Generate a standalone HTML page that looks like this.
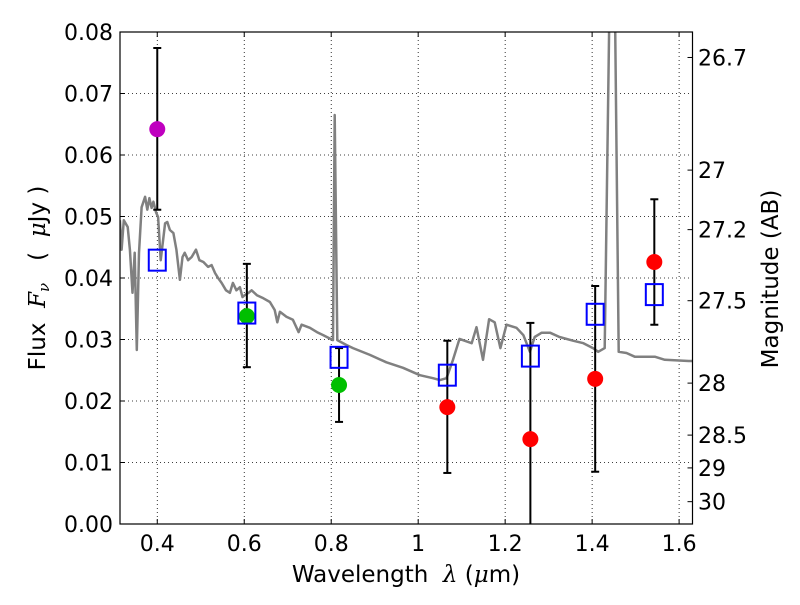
<!DOCTYPE html>
<html><head><meta charset="utf-8"><style>
body{margin:0;background:#fff}
svg text{font-family:"DejaVu Sans","Liberation Sans",sans-serif;fill:#000}
</style></head><body>
<svg id="chart" width="800" height="600" xmlns="http://www.w3.org/2000/svg"></svg>
<script>
const specLam=[0.314,0.318,0.323,0.332,0.337,0.343,0.348,0.353,0.358,0.364,0.372,0.377,0.382,0.387,0.391,0.397,0.402,0.408,0.418,0.423,0.429,0.437,0.444,0.452,0.458,0.463,0.471,0.479,0.489,0.497,0.506,0.517,0.525,0.533,0.540,0.548,0.558,0.567,0.574,0.582,0.590,0.596,0.601,0.610,0.617,0.629,0.644,0.659,0.670,0.676,0.682,0.697,0.712,0.725,0.732,0.751,0.767,0.782,0.804,0.808,0.814,0.835,0.850,0.889,0.927,0.965,1.004,1.034,1.050,1.065,1.080,1.095,1.123,1.134,1.149,1.163,1.176,1.189,1.203,1.226,1.242,1.257,1.268,1.284,1.303,1.325,1.356,1.380,1.402,1.414,1.429,1.443,1.450,1.461,1.479,1.498,1.544,1.567,1.622,1.635];
const specFlux=[0.0494,0.0446,0.0494,0.0483,0.0446,0.0376,0.0441,0.0283,0.0441,0.0515,0.0532,0.0511,0.0530,0.0514,0.0524,0.0507,0.0499,0.0429,0.0489,0.0491,0.0478,0.0473,0.0446,0.0397,0.0434,0.0441,0.0429,0.0434,0.0446,0.0429,0.0426,0.0418,0.0421,0.0408,0.0400,0.0392,0.0380,0.0376,0.0392,0.0380,0.0385,0.0369,0.0372,0.0376,0.0380,0.0372,0.0367,0.0361,0.0348,0.0328,0.0345,0.0337,0.0332,0.0312,0.0324,0.0319,0.0312,0.0307,0.0299,0.0665,0.0299,0.0291,0.0286,0.0275,0.0263,0.0254,0.0242,0.0237,0.0234,0.0237,0.0267,0.0301,0.0294,0.0320,0.0267,0.0333,0.0328,0.0286,0.0324,0.0319,0.0307,0.0280,0.0304,0.0311,0.0311,0.0304,0.0298,0.0294,0.0286,0.0280,0.0286,0.1000,0.1000,0.0280,0.0278,0.0272,0.0272,0.0267,0.0265,0.0265];
const obsLam=[0.400,0.606,0.818,1.067,1.258,1.407,1.543];
const obsFlux=[0.0642,0.0338,0.0226,0.0190,0.0138,0.0236,0.0426];
const obsErrHi=[0.0774,0.0423,0.0286,0.0298,0.0327,0.0387,0.0528];
const obsErrLo=[0.0511,0.0255,0.0166,0.0083,-0.005,0.0085,0.0324];
const obsColor=['#bf00bf','#00bf00','#00bf00','#ff0000','#ff0000','#ff0000','#ff0000'];
const modelFlux=[0.0429,0.0343,0.0271,0.0242,0.0273,0.0341,0.0373];
const xTicks=[0.4,0.6,0.8,1.0,1.2,1.4,1.6];
const xTickLabels=['0.4','0.6','0.8','1','1.2','1.4','1.6'];
const yTicks=[0,0.01,0.02,0.03,0.04,0.05,0.06,0.07,0.08];
const yTickLabels=['0.00','0.01','0.02','0.03','0.04','0.05','0.06','0.07','0.08'];
const magTicks=[26.7,27,27.2,27.5,28,28.5,29,30];

const L=120,R=692.5,T=32,B=524,xmin=0.3143,xmax=1.6308,ymin=0,ymax=0.08;
const sx=v=>L+(v-xmin)/(xmax-xmin)*(R-L);
const sy=v=>B-(v-ymin)/(ymax-ymin)*(B-T);
const magToFlux=m=>Math.pow(10,(23.9-m)/2.5);
const svg=document.getElementById('chart');
const NS='http://www.w3.org/2000/svg';
function mk(tag,attrs,parent){const e=document.createElementNS(NS,tag);for(const k in attrs)e.setAttribute(k,attrs[k]);(parent||svg).appendChild(e);return e;}

const defs=mk('defs',{});
const cp=mk('clipPath',{id:'plotclip'},defs);
mk('rect',{x:L,y:T,width:R-L,height:B-T},cp);

const grid=mk('g',{});


xTicks.forEach(t=>{mk('line',{x1:sx(t),x2:sx(t),y1:T,y2:B,stroke:'#000','stroke-width':0.8,'stroke-dasharray':'1,3'},grid);});
yTicks.forEach(t=>{mk('line',{x1:L,x2:R,y1:sy(t),y2:sy(t),stroke:'#000','stroke-width':0.8,'stroke-dasharray':'1,3'},grid);});

const plot=mk('g',{'clip-path':'url(#plotclip)'});
let d='';
specLam.forEach((l,i)=>{d+=(i?'L':'M')+sx(l).toFixed(1)+','+sy(specFlux[i]).toFixed(1);});
const sp=mk('path',{d:d,fill:'none',stroke:'#808080','stroke-width':2.5,'stroke-linejoin':'round'},plot);



obsLam.forEach((l,i)=>{
  const x=sx(l);
  const g=mk('g',{},plot);
  
  
  mk('line',{x1:x,x2:x,y1:sy(obsErrHi[i]),y2:sy(obsErrLo[i]),stroke:'#000','stroke-width':2},g);
  [obsErrHi[i],obsErrLo[i]].forEach(v=>mk('line',{x1:x-4,x2:x+4,y1:sy(v),y2:sy(v),stroke:'#000','stroke-width':2},g));
  const c=mk('circle',{cx:x,cy:sy(obsFlux[i]),r:8,fill:obsColor[i]},g);
  
  
  const s=mk('rect',{x:x-8.5,y:sy(modelFlux[i])-10.5,width:17,height:21,fill:'none',stroke:'#0000ff','stroke-width':2},g);
  
  
});

const fr=mk('rect',{x:L,y:T,width:R-L,height:B-T,fill:'none',stroke:'#000','stroke-width':1.2});



xTicks.forEach((t,i)=>{
  const x=sx(t);
  mk('line',{x1:x,x2:x,y1:B,y2:B-5,stroke:'#000'});
  mk('line',{x1:x,x2:x,y1:T,y2:T+5,stroke:'#000'});
  const tx=mk('text',{x:x,y:551,'font-size':22,'text-anchor':'middle'});
  tx.textContent=xTickLabels[i];
  
  
});
yTicks.forEach((t,i)=>{
  const y=sy(t);
  mk('line',{x1:L,x2:L+5,y1:y,y2:y,stroke:'#000'});
  const tx=mk('text',{x:113,y:y+8,'font-size':22,'text-anchor':'end'});
  tx.textContent=yTickLabels[i];
  
  
});
magTicks.forEach(m=>{
  const y=sy(magToFlux(m));
  mk('line',{x1:R,x2:R-5,y1:y,y2:y,stroke:'#000'});
  const tx=mk('text',{x:698,y:y+8,'font-size':22,'text-anchor':'start'});
  tx.textContent=String(m);
  
  
});

const xt=mk('text',{x:406,y:582,'font-size':23,'text-anchor':'middle'});
xt.innerHTML='Wavelength&#160;&#160;<tspan font-style="italic" font-family="DejaVu Serif, serif">λ</tspan>&#160;(<tspan font-style="italic" font-family="DejaVu Serif, serif">μ</tspan>m)';


const yt=mk('text',{x:0,y:0,'font-size':23,'text-anchor':'middle',transform:'translate(45,278) rotate(-90)'});
yt.innerHTML='Flux&#160;&#160;<tspan font-style="italic" font-family="DejaVu Serif, serif">F</tspan><tspan font-style="italic" font-size="15" dy="4" font-family="DejaVu Serif, serif">ν</tspan><tspan dy="-4">&#160;&#160;&#160;(&#160;&#160;</tspan><tspan font-style="italic" font-family="DejaVu Serif, serif">μ</tspan>Jy&#160;)';


const rt=mk('text',{x:0,y:0,'font-size':23,'text-anchor':'middle',transform:'translate(778,279) rotate(-90)'});
rt.textContent='Magnitude (AB)';


</script>
</body></html>
